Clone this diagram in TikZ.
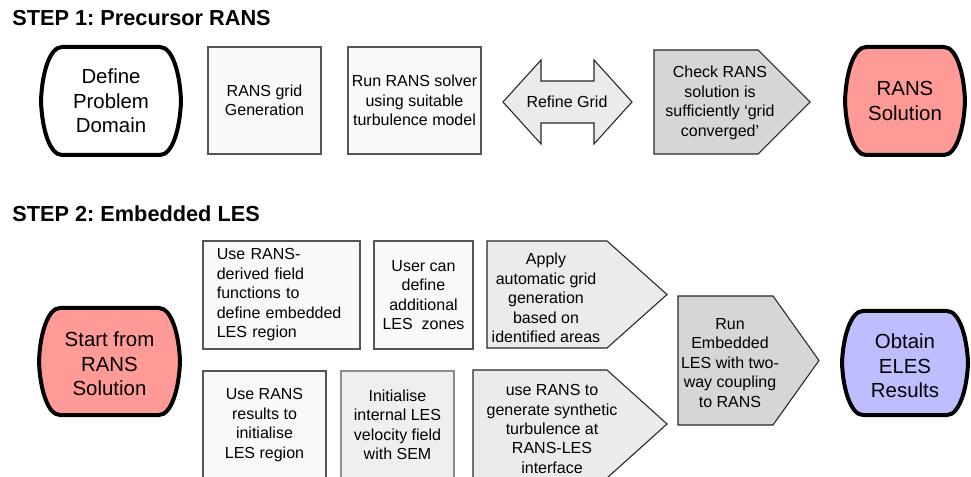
\documentclass[tikz,border=0pt]{standalone}
\usepackage{fontspec}
\setmainfont{Liberation Sans}
\usepackage{tikz}
\usepackage{color}
\frenchspacing

%Colors
\definecolor{ranscolor}{HTML}{FF9A96}
\definecolor{elescolor}{HTML}{BDBDFF}
\definecolor{boxfill}{HTML}{F9F9F9}
\definecolor{boxborder}{HTML}{555555}
\definecolor{initfill}{HTML}{EFEFEF}
\definecolor{lightarrow}{HTML}{EBEBEB}
\definecolor{darkarrow}{HTML}{D6D6D6}

%Fonts
\newcommand{\boxfont}{\fontsize{12}{14.6}\selectfont}
\newcommand{\termfont}{\fontsize{15.3}{18.4}\selectfont}
\newcommand{\titlefont}{\fontsize{16.3}{19}\selectfont\bfseries}

%Terminal outline: x1, y1, x2, y2, fill
\newcommand{\termshape}[5]{%
	\draw[terminal line,fill=#5] ({#1+21},#2) -- ({#3-21},#2)
		.. controls ({#3-9},#2) and ({#3-1},{#2+25}) .. (#3,{(#2+#4)/2})
		.. controls ({#3-1},{#4-25}) and ({#3-9},#4) .. ({#3-21},#4)
		-- ({#1+21},#4)
		.. controls ({#1+9},#4) and ({#1+1},{#4-25}) .. (#1,{(#2+#4)/2})
		.. controls ({#1+1},{#2+25}) and ({#1+9},#2) .. cycle;}

\begin{document}
\begin{tikzpicture}
		[x=0.75pt,y=-0.75pt,line join=miter,
		%Styles
		box/.style={draw=boxborder,fill=boxfill,line width=0.8pt,align=center,font=\boxfont,inner sep=2pt},
		box text/.style={align=center,font=\boxfont,inner sep=0pt},
		term text/.style={align=center,font=\termfont,inner sep=0pt},
		step title/.style={anchor=base west,font=\titlefont,inner sep=0pt},
		arrow shape/.style={draw=black!85,line width=0.8pt},
		terminal line/.style={draw=black,line width=3pt}
		]
		
		\useasboundingbox (0,0) rectangle (971,477);
		\clip (0,0) rectangle (971,477);
		
		%Step 1
		\node[step title] (step1) at (12,26) {STEP 1: Precursor RANS};
		
		\termshape{41}{47}{181}{155}{white}
		\node[term text] (define) at (111,101) {Define\\Problem\\Domain};
		
		\node[box,minimum width=84.75pt,minimum height=80.25pt] (gridgen) at (264.5,100.5) {RANS grid\\Generation};
		\node[box,minimum width=99.75pt,minimum height=80.25pt] (solver) at (414.5,100.5) {Run RANS solver\\using suitable\\turbulence model};
		
		\draw[arrow shape,fill=lightarrow] (503,102) -- (541,60) -- (541,81) -- (594,81) -- (594,60)
			-- (632,102) -- (594,144) -- (594,123) -- (541,123) -- (541,144) -- cycle;
		\node[box text] (refine) at (567,102) {Refine Grid};
		
		\draw[arrow shape,fill=darkarrow] (654,50) -- (758,50) -- (810,102) -- (758,154) -- (654,154) -- cycle;
		\node[box text] (check) at (720,103) {Check RANS\\solution is\\sufficiently ‘grid\\converged’};
		
		\termshape{845}{47}{965}{155}{ranscolor}
		\node[term text] (ranssol) at (905,101) {RANS\\Solution};
		
		%Step 2
		\node[step title] (step2) at (12,222) {STEP 2: Embedded LES};
		
		\termshape{39}{308}{180}{415}{ranscolor}
		\node[term text] (start) at (109.5,364) {Start from\\RANS\\Solution};
		
		\node[box,minimum width=117.75pt,minimum height=81pt,text width=97pt,align=left] (derived) at (281.5,295) {Use RANS-\\derived field\\functions to\\define embedded\\LES region};
		\node[box,minimum width=74.25pt,minimum height=81pt] (usercan) at (423.5,295) {User can\\define\\additional\\LES\ \ zones};
		
		\draw[arrow shape,fill=lightarrow] (487,241) -- (607,241) -- (667,294.5) -- (607,348) -- (487,348) -- cycle;
		\node[box text] (autogrid) at (546,298) {Apply\\automatic grid\\generation\\based on\\identified areas};
		
		\node[box,minimum width=92.25pt,minimum height=81pt] (initres) at (264.5,425) {Use RANS\\results to\\initialise\\LES region};
		\node[box,fill=initfill,draw=black!45,minimum width=84.75pt,minimum height=81pt] (initsem) at (397.5,425) {Initialise\\internal LES\\velocity field\\with SEM};
		
		\draw[arrow shape,fill=lightarrow] (473,370) -- (607,370) -- (667,424) -- (607,478) -- (473,478) -- cycle;
		\node[box text] (synth) at (552,429) {use RANS to\\generate synthetic\\turbulence at\\RANS-LES\\interface};
		
		\draw[arrow shape,fill=darkarrow] (678,296) -- (773,296) -- (819,360.5) -- (773,425) -- (678,425) -- cycle;
		\node[box text] (runeles) at (730,363) {Run\\Embedded\\LES with two-\\way coupling\\to RANS};
		
		\termshape{842}{311}{968}{415}{elescolor}
		\node[term text] (eles) at (905,366) {Obtain\\ELES\\Results};
\end{tikzpicture}
\end{document}
